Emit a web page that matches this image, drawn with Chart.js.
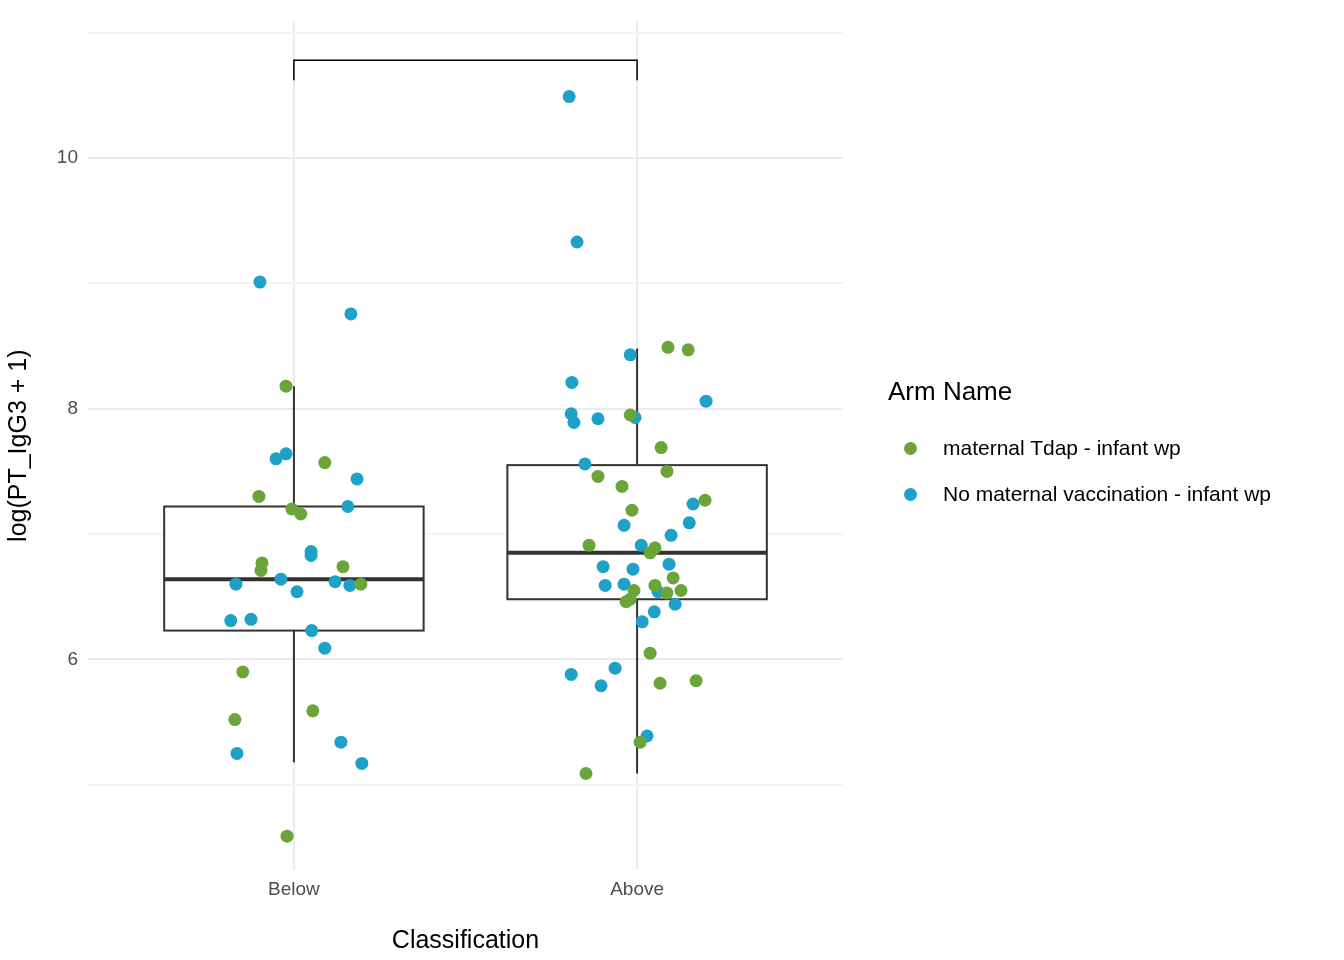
<!DOCTYPE html>
<html>
<head>
<meta charset="utf-8">
<script src="https://cdn.jsdelivr.net/npm/chart.js@4/dist/chart.umd.min.js"></script>
<style>
  body { margin: 0; background: #fff; font-family: 'Liberation Sans', Arial, sans-serif; }
  #wrap { position: relative; width: 1344px; height: 960px; }
  #legend { position: absolute; left: 888px; top: 376px; color: #000; }
  #legend .title { font-size: 26px; margin-bottom: 18px; }
  #legend .item { font-size: 21px; display: flex; align-items: center; height: 46px; }
  #legend .dot { width: 13px; height: 13px; border-radius: 50%; margin: 0 26px 0 16px; }
</style>
</head>
<body>
<div id="wrap">
  <canvas id="chart" width="1344" height="960"></canvas>
  <div id="legend"></div>
</div>
<script>
// Classification categories placed at x = 1, 2
const categories = ['Below', 'Above'];
const armNames = ['maternal Tdap - infant wp', 'No maternal vaccination - infant wp'];
const armColors = ['#6BA539', '#1DA1C9'];

// jittered points [x, y]
const tdapPoints = [
  [0.977, 8.18], [1.090, 7.57], [0.898, 7.30], [0.994, 7.20], [1.020, 7.16],
  [0.907, 6.77], [0.904, 6.71], [1.143, 6.74], [1.195, 6.60], [0.851, 5.90],
  [0.828, 5.52], [1.055, 5.59], [0.980, 4.59],
  [2.090, 8.49], [2.149, 8.47], [1.980, 7.95], [2.070, 7.69], [2.087, 7.50],
  [1.886, 7.46], [1.956, 7.38], [2.198, 7.27], [1.985, 7.19], [1.860, 6.91],
  [2.052, 6.89], [2.038, 6.85], [2.105, 6.65], [2.052, 6.59], [1.991, 6.55],
  [2.087, 6.53], [2.128, 6.55], [1.980, 6.48], [1.968, 6.46], [2.038, 6.05],
  [2.067, 5.81], [2.172, 5.83], [2.009, 5.34], [1.851, 5.09]
];
const noVaxPoints = [
  [0.901, 9.01], [1.166, 8.756], [0.948, 7.60], [0.977, 7.64], [1.184, 7.44],
  [1.157, 7.22], [1.050, 6.86], [1.050, 6.83], [0.831, 6.60], [0.962, 6.64],
  [1.009, 6.54], [1.120, 6.62], [1.163, 6.59], [0.816, 6.31], [0.875, 6.32],
  [1.052, 6.23], [1.090, 6.09], [1.137, 5.34], [0.834, 5.25], [1.198, 5.17],
  [1.802, 10.49], [1.825, 9.33], [1.980, 8.43], [1.810, 8.21], [2.201, 8.06],
  [1.808, 7.96], [1.816, 7.89], [1.886, 7.92], [1.994, 7.93], [1.848, 7.56],
  [2.163, 7.24], [2.152, 7.09], [1.962, 7.07], [2.099, 6.99], [2.012, 6.91],
  [2.093, 6.76], [1.901, 6.74], [1.988, 6.72], [1.907, 6.59], [1.962, 6.60],
  [2.061, 6.54], [2.111, 6.44], [2.050, 6.38], [2.015, 6.30], [1.936, 5.93],
  [1.808, 5.88], [1.895, 5.79], [2.029, 5.39]
];

// box stats per category: [lowerWhisker, q1, median, q3, upperWhisker]
const boxStats = [
  [5.18, 6.23, 6.64, 7.22, 8.18],
  [5.09, 6.48, 6.85, 7.55, 8.48]
];
const boxHalfWidth = 0.378;
const bracketY = [10.62, 10.78];

const boxPlugin = {
  id: 'boxes',
  beforeDatasetsDraw(chart) {
    const { ctx, scales: { x, y } } = chart;
    ctx.save();
    ctx.strokeStyle = '#333333';
    boxStats.forEach((s, i) => {
      const cx = x.getPixelForValue(i + 1);
      const l = x.getPixelForValue(i + 1 - boxHalfWidth);
      const r = x.getPixelForValue(i + 1 + boxHalfWidth);
      ctx.lineWidth = 2;
      ctx.beginPath();
      ctx.moveTo(cx, y.getPixelForValue(s[0])); ctx.lineTo(cx, y.getPixelForValue(s[1]));
      ctx.moveTo(cx, y.getPixelForValue(s[3])); ctx.lineTo(cx, y.getPixelForValue(s[4]));
      ctx.stroke();
      ctx.fillStyle = '#fff';
      const top = y.getPixelForValue(s[3]), bot = y.getPixelForValue(s[1]);
      ctx.fillRect(l, top, r - l, bot - top);
      ctx.strokeRect(l, top, r - l, bot - top);
      ctx.lineWidth = 4;
      ctx.beginPath();
      ctx.moveTo(l, y.getPixelForValue(s[2])); ctx.lineTo(r, y.getPixelForValue(s[2]));
      ctx.stroke();
    });
    // significance bracket
    ctx.lineWidth = 1.5;
    ctx.strokeStyle = '#000';
    ctx.beginPath();
    ctx.moveTo(x.getPixelForValue(1), y.getPixelForValue(bracketY[0]));
    ctx.lineTo(x.getPixelForValue(1), y.getPixelForValue(bracketY[1]));
    ctx.lineTo(x.getPixelForValue(2), y.getPixelForValue(bracketY[1]));
    ctx.lineTo(x.getPixelForValue(2), y.getPixelForValue(bracketY[0]));
    ctx.stroke();
    ctx.restore();
  }
};

document.getElementById('legend').innerHTML =
  '<div class="title">Arm Name</div>' +
  armNames.map((n, i) => `<div class="item"><span class="dot" style="background:${armColors[i]}"></span>${n}</div>`).join('');

const font = { family: "'Liberation Sans', Arial, sans-serif" };

new Chart(document.getElementById('chart'), {
  type: 'scatter',
  data: {
    datasets: [
      { label: armNames[0], data: tdapPoints.map(p => ({ x: p[0], y: p[1] })), backgroundColor: armColors[0], borderWidth: 0, pointRadius: 6.5 },
      { label: armNames[1], data: noVaxPoints.map(p => ({ x: p[0], y: p[1] })), backgroundColor: armColors[1], borderWidth: 0, pointRadius: 6.5 }
    ]
  },
  options: {
    responsive: false,
    animation: false,
    layout: { padding: { left: 0, right: 501, top: 15, bottom: 0 } },
    plugins: { legend: { display: false }, tooltip: { enabled: false } },
    scales: {
      x: {
        type: 'linear', min: 0.4, max: 2.6,
        afterBuildTicks: s => { s.ticks = [{ value: 1 }, { value: 2 }]; },
        afterFit: s => { s.height = 90; },
        ticks: { callback: v => categories[v - 1], color: '#4d4d4d', font: { ...font, size: 19 }, padding: 8 },
        grid: { color: '#ebebeb', lineWidth: 2, drawTicks: false },
        border: { display: false },
        title: { display: true, text: 'Classification', color: '#000', font: { ...font, size: 25 }, padding: { top: 2 } }
      },
      y: {
        type: 'linear', min: 4.32, max: 11.09,
        afterBuildTicks: s => { s.ticks = [5, 6, 7, 8, 9, 10, 11].map(v => ({ value: v })); },
        afterFit: s => { s.width = 88; },
        ticks: { callback: v => (v % 2 === 0 ? String(v) : ''), color: '#4d4d4d', font: { ...font, size: 19 }, padding: 10 },
        grid: { color: ctx => (ctx.tick && ctx.tick.value % 2 === 0 ? '#ebebeb' : '#f3f3f3'), lineWidth: 2, drawTicks: false },
        border: { display: false },
        title: { display: true, text: 'log(PT_IgG3 + 1)', color: '#000', font: { ...font, size: 25 }, padding: { bottom: 4 } }
      }
    }
  },
  plugins: [boxPlugin]
});
</script>
</body>
</html>
